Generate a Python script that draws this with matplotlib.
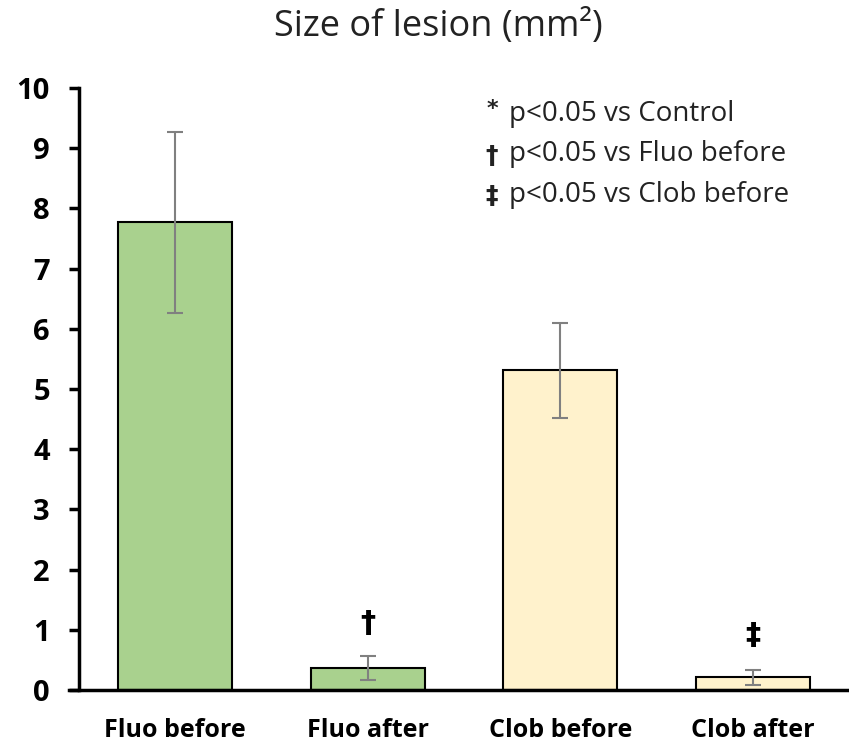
import matplotlib
matplotlib.use("Agg")
import matplotlib.pyplot as plt

categories = ["Fluo before", "Fluo after", "Clob before", "Clob after"]
means = [7.77, 0.37, 5.31, 0.21]
errors = [1.50, 0.20, 0.79, 0.12]
bar_colors = ["#A9D18E", "#A9D18E", "#FFF2CC", "#FFF2CC"]
sig_marks = ["", "\u2020", "", "\u2021"]
sig_heights = [0, 1.11, 0, 0.90]
legend_symbols = ["*", "\u2020", "\u2021"]
legend_texts = ["p<0.05 vs Control", "p<0.05 vs Fluo before", "p<0.05 vs Clob before"]
yticks = list(range(0, 11))

plt.rcParams['font.family'] = ['Open Sans', 'DejaVu Sans']

fig = plt.figure(figsize=(8.49, 7.47), dpi=100)
ax = fig.add_axes([79/849, 1-690/747, 1-79/849, (690-88)/747])

x = list(range(len(categories)))
ax.bar(x, means, width=0.59, color=bar_colors, edgecolor="black", linewidth=1.5, zorder=2)
ax.errorbar(x, means, yerr=errors, fmt="none", ecolor="#808080", elinewidth=1.5,
            capsize=6, capthick=1.5, zorder=3)

for xi, m, h in zip(x, sig_marks, sig_heights):
    if m:
        ax.text(xi, h, m, ha="center", va="center", fontsize=22, fontweight="bold",
                family=['DejaVu Sans'])

ax.set_xlim(-0.5, 3.5)
ax.set_ylim(0, 10)
ax.set_yticks(yticks)
ax.set_yticklabels([str(t) for t in yticks], fontsize=21, fontweight="bold")
ax.set_xticks(x)
ax.set_xticklabels(categories, fontsize=18, fontweight="bold")
ax.tick_params(axis="y", length=7, width=2.5, pad=14)
ax.tick_params(axis="x", length=0, pad=20)
for s in ["top", "right"]:
    ax.spines[s].set_visible(False)
for s in ["left", "bottom"]:
    ax.spines[s].set_linewidth(2.5)
ax.spines["bottom"].set_bounds(-0.5 - 10/192.5, 3.5)

sym_offsets = [-5, 1, 1]
sym_sizes = [16, 18, 18]
for i, (sym, txt) in enumerate(zip(legend_symbols, legend_texts)):
    ypx = 114 + i*40.5
    fig.text(492/849, 1 - (ypx + sym_offsets[i])/747, sym, fontsize=sym_sizes[i], va="center",
             ha="center", fontweight="bold", color="#222222", family=['DejaVu Sans'])
    fig.text(509/849, 1 - ypx/747, txt, fontsize=20, va="center", ha="left",
             color="#222222", family=['Open Sans', 'DejaVu Sans'])

fig.text(438/849, 1 - 27/747, "Size of lesion (mm\u00b2)", fontsize=26, ha="center", va="center",
         color="#222222")

fig.savefig("out.png", dpi=100)
